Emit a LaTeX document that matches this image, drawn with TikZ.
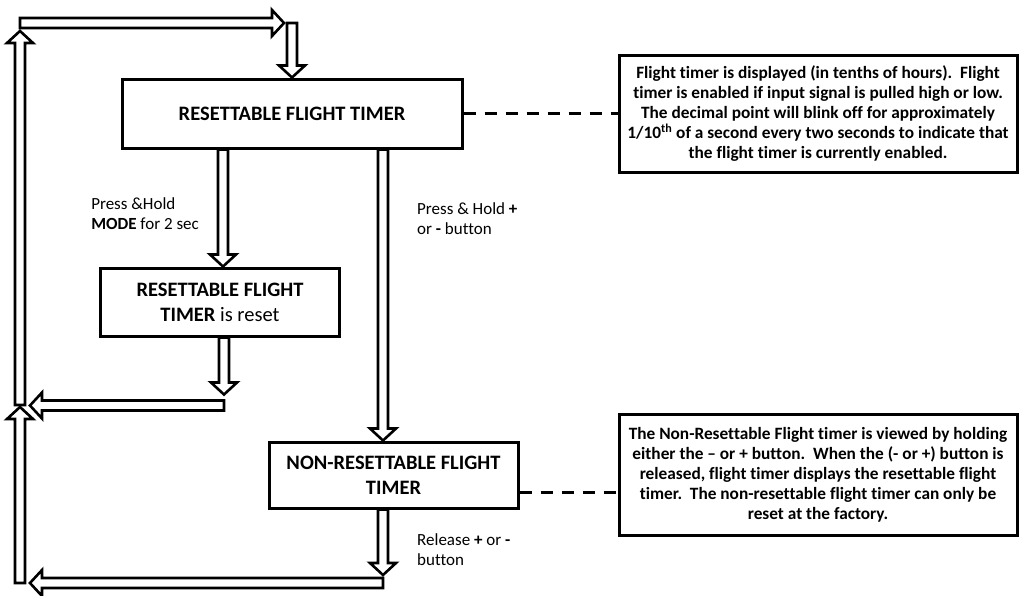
\documentclass[tikz,border=0pt]{standalone}
\usepackage{fontspec}
\setmainfont{Carlito}[Ligatures=NoCommon]
\usetikzlibrary{calc}
\tikzset{
  stbox/.style={draw, line width=3pt, fill=white, align=center, inner sep=0pt,
    font=\bfseries\fontsize{20.5}{25}\selectfont},
  info/.style={draw, line width=3pt, fill=white, align=center, inner sep=0pt,
    font=\bfseries\fontsize{17.3}{20}\selectfont},
  lbl/.style={align=left, inner sep=0pt, font=\fontsize{17}{20}\selectfont},
  blk/.style={draw, line width=2.6pt, fill=white, line join=miter},
  dashline/.style={line width=3pt, dash pattern=on 12pt off 9pt}
}
\newcommand\arrD[2]{\draw[blk] let \p1=#1, \p2=#2 in
  (\x1-5pt,\y1) -- (\x1+5pt,\y1) -- (\x1+5pt,\y2+12pt) -- (\x1+13pt,\y2+12pt) -- (\x1,\y2)
  -- (\x1-13pt,\y2+12pt) -- (\x1-5pt,\y2+12pt) -- cycle;}
\newcommand\arrU[2]{\draw[blk] let \p1=#1, \p2=#2 in
  (\x1-5pt,\y1) -- (\x1+5pt,\y1) -- (\x1+5pt,\y2-12pt) -- (\x1+13pt,\y2-12pt) -- (\x1,\y2)
  -- (\x1-13pt,\y2-12pt) -- (\x1-5pt,\y2-12pt) -- cycle;}
\newcommand\arrL[2]{\draw[blk] let \p1=#1, \p2=#2 in
  (\x1,\y1+5pt) -- (\x1,\y1-5pt) -- (\x2+12pt,\y1-5pt) -- (\x2+12pt,\y1-13pt) -- (\x2,\y1)
  -- (\x2+12pt,\y1+13pt) -- (\x2+12pt,\y1+5pt) -- cycle;}
\newcommand\arrR[2]{\draw[blk] let \p1=#1, \p2=#2 in
  (\x1,\y1+5pt) -- (\x1,\y1-5pt) -- (\x2-12pt,\y1-5pt) -- (\x2-12pt,\y1-13pt) -- (\x2,\y1)
  -- (\x2-12pt,\y1+13pt) -- (\x2-12pt,\y1+5pt) -- cycle;}
\begin{document}
\begin{tikzpicture}[x=1pt,y=-1pt]
\useasboundingbox (0,0) rectangle (1019,595);
% boxes
\node[stbox, minimum width=340pt, minimum height=69pt] (top) at (292,113.5) {RESETTABLE FLIGHT TIMER};
\node[stbox, minimum width=239pt, minimum height=68pt] (mid) at (220,302) {RESETTABLE FLIGHT\\TIMER \mdseries is reset};
\node[stbox, minimum width=249pt, minimum height=66pt] (nr) at (393.5,475) {NON-RESETTABLE FLIGHT\\TIMER};
\node[info, minimum width=398pt, minimum height=117pt] (info1) at (818,113.5)
  {Flight timer is displayed (in tenths of hours).\ \ Flight\\
   timer is enabled if input signal is pulled high or low.\\
   The decimal point will blink off for approximately\\
   1/10\textsuperscript{th} of a second every two seconds to indicate that\\
   the flight timer is currently enabled.};
\node[info, minimum width=398pt, minimum height=121pt] (info2) at (818,474.5)
  {The Non-Resettable Flight timer is viewed by holding\\
   either the -- or + button.\ \ When the (- or +) button is\\
   released, flight timer displays the resettable flight\\
   timer.\ \ The non-resettable flight timer can only be\\
   reset at the factory.};
% labels
\node[lbl, anchor=east] (l1) at (199,214) {Press \&Hold\\\textbf{MODE} for 2 sec};
\node[lbl, anchor=west] (l2) at (417,219) {Press \& Hold \textbf{+}\\or \textbf{-} button};
\node[lbl, anchor=west] (l3) at (417,550) {Release \textbf{+} or \textbf{-}\\button};
% corner coordinates
\coordinate (tl) at (20,23);
\coordinate (trtip) at (284,23);
\coordinate (tr) at (292,23);
\coordinate (ml) at (224,405.5);
\coordinate (mltip) at (30,405.5);
\coordinate (lu1) at (20,405);
\coordinate (bl) at (383,583);
\coordinate (bltip) at (30,583);
\coordinate (lu2) at (20,583);
\coordinate (lu2tip) at (20,407);
% dashed links
\draw[dashline] (top.east) -- (info1.west);
\draw[dashline] ([yshift=-17pt]nr.east) -- ([yshift=-17pt]nr.east -| info2.west);
% block arrows
\arrR{(tl)}{(trtip)}
\arrD{(tr)}{(top.north)}
\arrD{([xshift=-69pt]top.south)}{(mid.north)}
\arrD{([xshift=4pt]mid.south)}{([yshift=11pt]ml)}
\arrL{(ml)}{(mltip)}
\arrU{(lu1)}{([yshift=-8pt]tl)}
\arrD{([xshift=91pt]top.south)}{(nr.north)}
\arrD{([xshift=-10.5pt]nr.south)}{([yshift=8pt]bl)}
\arrL{(bl)}{(bltip)}
\arrU{(lu2)}{(lu2tip)}
\end{tikzpicture}
\end{document}
